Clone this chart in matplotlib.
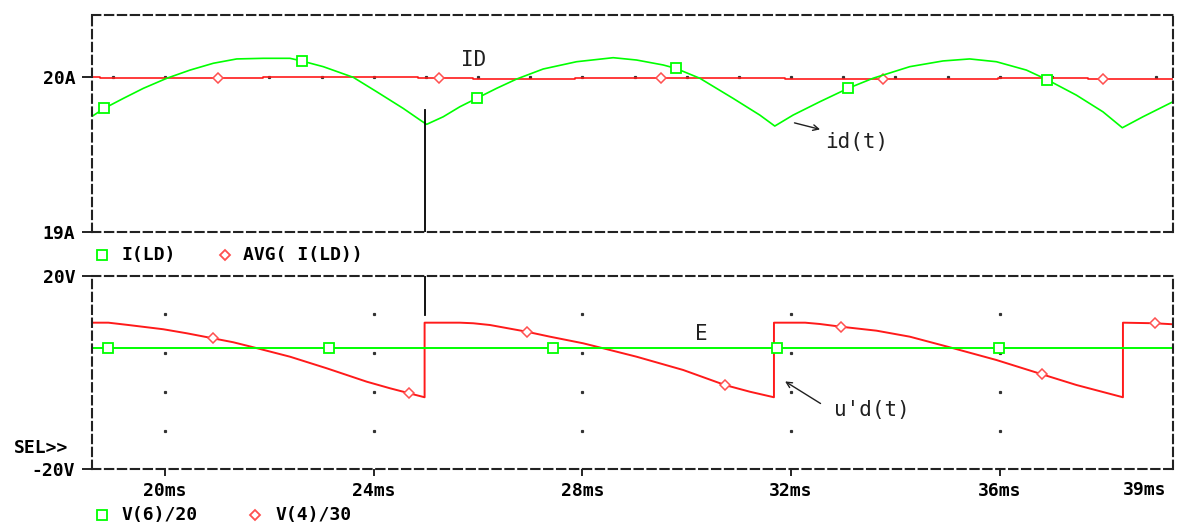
import numpy as np
import matplotlib.pyplot as plt
from matplotlib.lines import Line2D

# I(LD): inductor current, time in ms, current in A
id_t = [18.615, 18.831, 19.201, 19.584, 20.033, 20.479, 20.925, 21.374, 21.883,
        22.395, 22.619, 23.033, 23.608, 24.056, 24.566, 24.919, 25.014, 25.332,
        25.652, 25.972, 26.356, 26.739, 27.249, 27.888, 28.590, 29.038, 29.548,
        29.791, 30.251, 30.889, 31.401, 31.688, 32.039, 32.550, 33.093, 33.571,
        34.275, 34.913, 35.424, 35.936, 36.511, 36.913, 37.469, 37.979, 38.350,
        38.745, 39.320]
id_a = [19.751, 19.799, 19.864, 19.929, 19.994, 20.047, 20.091, 20.119, 20.123,
        20.123, 20.106, 20.069, 20.000, 19.907, 19.799, 19.717, 19.696, 19.745,
        19.810, 19.864, 19.929, 19.989, 20.054, 20.101, 20.127, 20.112, 20.080,
        20.058, 19.994, 19.864, 19.756, 19.685, 19.756, 19.842, 19.929, 19.994,
        20.069, 20.106, 20.119, 20.101, 20.047, 19.984, 19.885, 19.777, 19.674,
        19.745, 19.842]
id_mk = [18.831, 22.619, 25.972, 29.791, 33.093, 36.913]

# AVG(I(LD)), step values
avg_t = [18.600, 18.755, 21.016, 21.878, 24.848, 25.250, 25.902, 27.856, 29.504,
         31.880, 33.757, 35.961, 37.685, 37.973, 39.320]
avg_a = [20.000, 19.994, 19.994, 20.000, 19.994, 19.994, 19.989, 19.994, 19.994,
         19.987, 19.987, 19.995, 19.987, 19.987, 19.987]
avg_mk = [21.016, 25.250, 29.504, 33.757, 37.973]

# V(4)/30: u'd(t)
ud_t = [18.615, 18.914, 19.297, 19.967, 20.416, 20.914, 21.309, 21.692, 22.395,
        23.098, 23.865, 24.311, 24.681, 24.975, 24.975, 25.652, 25.907, 26.227,
        26.930, 27.377, 28.015, 28.398, 29.038, 29.931, 30.730, 31.209, 31.672,
        31.672, 32.270, 32.550, 32.953, 33.637, 34.275, 35.041, 35.936, 36.810,
        37.469, 38.362, 38.362, 38.969, 39.320]
ud_v = [10.29, 10.29, 9.81, 8.93, 8.10, 7.07, 6.24, 5.21, 3.26,
        0.87, -1.90, -3.26, -4.30, -5.12, 10.29, 10.29, 10.17, 9.81,
        8.43, 7.40, 6.03, 5.00, 3.26, 0.52, -2.58, -3.97, -5.12,
        10.29, 10.29, 10.02, 9.46, 8.64, 7.40, 5.21, 2.58, -0.37,
        -2.58, -5.12, 10.29, 10.17, 9.96]
ud_mk = [20.914, 24.681, 26.930, 30.730, 32.953, 36.810, 38.969]

# V(6)/20: E
e_t = [18.600, 18.914, 23.148, 27.429, 31.721, 35.980, 39.320]
e_v = [5.0, 5.0, 5.0, 5.0, 5.0, 5.0, 5.0]
e_mk = [18.914, 23.148, 27.429, 31.721, 35.980]

x_ticks = [20, 24, 28, 32, 36]
x_labels = ["20ms", "24ms", "28ms", "32ms", "36ms"]
v_grid = [12, 4, -4, -12]

GREEN = "#00ff00"
RED = "#ff1a1a"
MARK_RED = "#ff5050"
bold = dict(family="DejaVu Sans Mono", weight="bold", size=13)
thin = dict(family="DejaVu Sans Mono", size=15, color="#202020")


def idx(t, mk):
    t = np.asarray(t)
    return [int(np.argmin(np.abs(t - m))) for m in mk]


def frame(ax):
    for s in ax.spines.values():
        s.set_linestyle((0, (4.0, 2.2)))
        s.set_linewidth(1.5)
        s.set_color("#222222")
    ax.set_facecolor("white")
    ax.set_xlim(18.6, 39.32)


fig = plt.figure(figsize=(11.8, 5.25), dpi=100)
ax1 = fig.add_axes([0.078, 0.5581, 0.916, 0.4133])
ax2 = fig.add_axes([0.078, 0.1061, 0.916, 0.3688])

# ---- upper plot: diode current ----
frame(ax1)
ax1.set_ylim(19, 20.403)
g = np.arange(19, 40)
ax1.plot(g, np.full(len(g), 20.0), ls="none", marker="s", ms=1.3, color="#333333")
ax1.plot(avg_t, avg_a, color=RED, lw=1.2, drawstyle="steps-post",
         marker="D", ms=5.5, mfc="white", mec=MARK_RED, mew=1.1,
         markevery=idx(avg_t, avg_mk))
ax1.plot(id_t, id_a, color=GREEN, lw=1.2,
         marker="s", ms=7, mfc="white", mec=GREEN, mew=1.3,
         markevery=idx(id_t, id_mk))
ax1.axvline(24.98, ymin=0, ymax=0.563, color="black", lw=1.3)
ax1.set_yticks([19, 20])
ax1.set_yticklabels(["19A", "20A"], fontdict=bold)
ax1.set_xticks([])
ax1.tick_params(axis="y", direction="out", length=7, width=1.2, pad=5)
ax1.text(25.92, 20.115, "ID", ha="center", va="center", **thin)
ax1.text(33.26, 19.581, "id(t)", ha="center", va="center", **thin)
ax1.annotate("", xy=(32.608, 19.659), xytext=(32.014, 19.710),
             arrowprops=dict(arrowstyle="->", color="#202020", lw=1.0))

# ---- lower plot: voltages ----
frame(ax2)
ax2.set_ylim(-20, 20)
gx, gy = np.meshgrid(x_ticks, v_grid)
ax2.plot(gx.ravel(), gy.ravel(), ls="none", marker="s", ms=1.3, color="#333333")
ax2.plot(ud_t, ud_v, color=RED, lw=1.4,
         marker="D", ms=5.5, mfc="white", mec=MARK_RED, mew=1.1,
         markevery=idx(ud_t, ud_mk))
ax2.plot(e_t, e_v, color=GREEN, lw=1.4,
         marker="s", ms=7, mfc="white", mec=GREEN, mew=1.3,
         markevery=idx(e_t, e_mk))
ax2.axvline(24.98, ymin=0.797, ymax=1, color="black", lw=1.3)
ax2.set_yticks([-20, 20])
ax2.set_yticklabels(["-20V", "20V"], fontdict=bold)
ax2.set_xticks(x_ticks)
ax2.set_xticklabels(x_labels, fontdict=bold)
ax2.tick_params(axis="y", direction="out", length=7, width=1.2, pad=5)
ax2.tick_params(axis="x", direction="out", length=5, width=1.2, pad=4)
# end-of-axis time label, level with the tick labels
ax2.text(38.78, -0.107, "39ms", ha="center", va="center",
         transform=ax2.get_xaxis_transform(), **bold)
ax2.text(-0.072, 0.11, "SEL>>", transform=ax2.transAxes, ha="left", va="center", **bold)
ax2.text(30.27, 7.85, "E", ha="center", va="center", **thin)
ax2.text(33.55, -7.75, "u'd(t)", ha="center", va="center", **thin)
ax2.annotate("", xy=(31.84, -1.54), xytext=(32.61, -6.71),
             arrowprops=dict(arrowstyle="->", color="#202020", lw=1.0))


# ---- legends under each plot ----
def key(x, y, marker, color, ms):
    fig.add_artist(Line2D([x / 1180], [1 - y / 525], marker=marker, ms=ms,
                          mfc="white", mec=color, mew=1.3, ls="none",
                          transform=fig.transFigure))


def label(x, y, s):
    fig.text(x / 1180, 1 - y / 525, s, ha="left", va="center", **bold)


key(102, 255, "s", GREEN, 6.5)
label(122, 255, "I(LD)")
key(225, 255, "D", MARK_RED, 5)
label(243, 255, "AVG( I(LD))")
key(102, 515, "s", GREEN, 6.5)
label(122, 515, "V(6)/20")
key(255, 515, "D", MARK_RED, 5)
label(275, 515, "V(4)/30")

fig.savefig("out.png", dpi=100, facecolor="white")
